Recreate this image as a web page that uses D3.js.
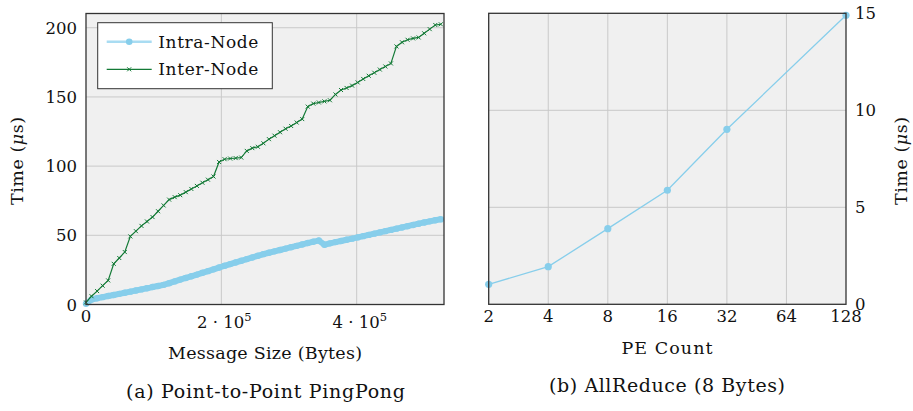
<!DOCTYPE html>
<html>
<head>
<meta charset="utf-8">
<script src="https://cdn.jsdelivr.net/npm/d3@7"></script>
<style>
  body { margin: 0; background: #fff; }
  text { font-family: 'DejaVu Serif', serif; fill: #111; }
</style>
</head>
<body>
<div id="chart"></div>
<script>
// message sizes (bytes), one sample every 8 KiB up to 512 KiB
const msgSizes = d3.range(0, 524289, 8192);
// latency in microseconds
const intraNode = [0.5, 3.6, 4.5, 5.3, 6.1, 6.9, 7.7, 8.5, 9.3, 10.1, 10.9, 11.7, 12.6, 13.4, 14.2, 15.4,
  16.7, 18.0, 19.2, 20.4, 21.6, 22.9, 24.1, 25.4, 26.7, 28.0, 29.2, 30.4, 31.6, 32.8, 34.0, 35.2,
  36.4, 37.4, 38.4, 39.4, 40.4, 41.4, 42.4, 43.4, 44.4, 45.4, 46.2, 43.2, 44.2, 45.1, 45.9, 46.8,
  47.6, 48.5, 49.4, 50.3, 51.2, 52.1, 53.0, 53.9, 54.8, 55.7, 56.6, 57.5, 58.4, 59.3, 60.1, 60.9, 61.6];
const interNode = [1.5, 6, 9.7, 13.6, 17.4, 29.4, 33.6, 37.9, 49.2, 53, 56.8, 60, 63.2, 67.4, 71.6, 75.8,
  77.6, 79, 81.2, 83.5, 85.7, 88, 90.2, 92.5, 103, 105, 105.5, 105.8, 106.2, 111, 113, 114,
  116.5, 119.5, 122, 124.5, 127, 129, 131.5, 134, 143, 145.2, 146, 146.8, 147.6, 151.8, 155, 156.5,
  158.2, 160.5, 163, 165.3, 167.5, 169.8, 172, 174.2, 186.5, 189.5, 191.3, 192.3, 193, 196, 199, 202, 202.5];

// allreduce
const peCounts = [2, 4, 8, 16, 32, 128];
const allReduce = [1.03, 1.94, 3.9, 5.88, 9.02, 14.9];
const peTicks = [2, 4, 8, 16, 32, 64, 128];

const intraColor = '#87ceeb';
const interColor = '#137a36';
const gridColor = '#c9c9c9';
const tickSize = 16.5;

const svg = d3.select('#chart').append('svg').attr('width', 913).attr('height', 411);

const panel = (x0, x1, y0, y1) => {
  const g = svg.append('g');
  g.append('rect').attr('x', x0).attr('y', y0).attr('width', x1 - x0).attr('height', y1 - y0)
    .attr('fill', '#f0f0f0');
  return g;
};
const frame = (g, x0, x1, y0, y1) => {
  g.append('rect').attr('x', x0).attr('y', y0).attr('width', x1 - x0).attr('height', y1 - y0)
    .attr('fill', 'none').attr('stroke', '#333').attr('stroke-width', 1.3);
};
// text stretched to the width it has in the figure
const label = (g, x, y, size, len, str) => g.append('text').attr('x', x).attr('y', y)
  .attr('text-anchor', 'middle').attr('font-size', size)
  .attr('textLength', len).attr('lengthAdjust', 'spacing').text(str);

// ---------- (a) point-to-point ----------
const A = { x0: 86, x1: 444, y0: 13.5, y1: 304.5 };
const xA = d3.scaleLinear().domain([0, 529000]).range([A.x0, A.x1]);
const yA = d3.scaleLinear().domain([0, 210.3]).range([A.y1, A.y0]);
const gA = panel(A.x0, A.x1, A.y0, A.y1);

gA.append('g').selectAll('line').data([200000, 400000]).join('line')
  .attr('x1', d => xA(d)).attr('x2', d => xA(d)).attr('y1', A.y0).attr('y2', A.y1)
  .attr('stroke', gridColor).attr('stroke-width', 1);
gA.append('g').selectAll('line').data([50, 100, 150, 200]).join('line')
  .attr('y1', d => yA(d)).attr('y2', d => yA(d)).attr('x1', A.x0).attr('x2', A.x1)
  .attr('stroke', gridColor).attr('stroke-width', 1);

const lineA = vals => d3.line().x((d, i) => xA(msgSizes[i])).y(d => yA(d))(vals);

svg.append('clipPath').attr('id', 'clipA').append('rect')
  .attr('x', A.x0 - 4).attr('y', A.y0).attr('width', A.x1 - A.x0 + 4).attr('height', A.y1 - A.y0 + 4);

const plotA = gA.append('g').attr('clip-path', 'url(#clipA)');
plotA.append('path').attr('d', lineA(intraNode)).attr('fill', 'none')
  .attr('stroke', intraColor).attr('stroke-width', 6).attr('stroke-linejoin', 'round');
plotA.append('g').selectAll('circle').data(intraNode).join('circle')
  .attr('cx', (d, i) => xA(msgSizes[i])).attr('cy', d => yA(d)).attr('r', 3.2).attr('fill', intraColor);

plotA.append('path').attr('d', lineA(interNode)).attr('fill', 'none')
  .attr('stroke', interColor).attr('stroke-width', 1.2);
const xMark = (x, y, s) => `M${x - s},${y - s}L${x + s},${y + s}M${x - s},${y + s}L${x + s},${y - s}`;
plotA.append('path')
  .attr('d', interNode.map((d, i) => xMark(xA(msgSizes[i]), yA(d), 2)).join(''))
  .attr('stroke', interColor).attr('stroke-width', 1).attr('fill', 'none');

frame(gA, A.x0, A.x1, A.y0, A.y1);

// y ticks
gA.append('g').selectAll('text').data([0, 50, 100, 150, 200]).join('text')
  .attr('x', 77).attr('y', d => yA(d) + 6).attr('text-anchor', 'end')
  .attr('font-size', tickSize).text(d => d);
// x ticks
gA.append('text').attr('x', xA(0)).attr('y', 322).attr('text-anchor', 'middle')
  .attr('font-size', tickSize).text('0');
const xtA = gA.append('g').selectAll('text').data([2, 4]).join('text')
  .attr('x', d => xA(d * 100000) + 3).attr('y', 328).attr('text-anchor', 'middle').attr('font-size', tickSize);
xtA.append('tspan').text(d => d + ' · 10');
xtA.append('tspan').attr('dy', -7).attr('font-size', 11.5).text('5');

label(gA, 265, 359, 17.5, 194, 'Message Size (Bytes)');
label(gA, 265.5, 398, 19, 279, '(a) Point-to-Point PingPong');

const yLabel = (x, y) => {
  const t = svg.append('text').attr('transform', `translate(${x},${y}) rotate(-90)`)
    .attr('text-anchor', 'middle').attr('font-size', 17.5)
    .attr('textLength', 88).attr('lengthAdjust', 'spacing');
  t.append('tspan').text('Time (');
  t.append('tspan').attr('font-style', 'italic').text('μ');
  t.append('tspan').text('s)');
};
yLabel(23, 161);

// legend
const lg = gA.append('g');
lg.append('rect').attr('x', 97.7).attr('y', 22.7).attr('width', 174.6).attr('height', 66)
  .attr('fill', '#fff').attr('stroke', '#333').attr('stroke-width', 1);
lg.append('line').attr('x1', 106.7).attr('x2', 151.7).attr('y1', 41.7).attr('y2', 41.7)
  .attr('stroke', '#a9dcf2').attr('stroke-width', 2.5);
lg.append('circle').attr('cx', 129.2).attr('cy', 41.7).attr('r', 3.3).attr('fill', intraColor);
lg.append('line').attr('x1', 106.7).attr('x2', 151.7).attr('y1', 69.3).attr('y2', 69.3)
  .attr('stroke', interColor).attr('stroke-width', 1.2);
lg.append('path').attr('d', xMark(129.2, 69.3, 2)).attr('stroke', interColor).attr('stroke-width', 1);
lg.selectAll('text.lab').data(['Intra-Node', 'Inter-Node']).join('text')
  .attr('x', 158.3).attr('y', (d, i) => [47.5, 75][i]).attr('font-size', 17)
  .attr('textLength', 100).attr('lengthAdjust', 'spacing').text(d => d);

// ---------- (b) allreduce ----------
const B = { x0: 488.7, x1: 846, y0: 13.3, y1: 304.3 };
const xB = d3.scaleLog().base(2).domain([2, 128]).range([B.x0, B.x1]);
const yB = d3.scaleLinear().domain([0, 15]).range([B.y1, B.y0]);
const gB = panel(B.x0, B.x1, B.y0, B.y1);

gB.append('g').selectAll('line').data(peTicks.slice(1, -1)).join('line')
  .attr('x1', d => xB(d)).attr('x2', d => xB(d)).attr('y1', B.y0).attr('y2', B.y1)
  .attr('stroke', gridColor).attr('stroke-width', 1);
gB.append('g').selectAll('line').data([5, 10]).join('line')
  .attr('y1', d => yB(d)).attr('y2', d => yB(d)).attr('x1', B.x0).attr('x2', B.x1)
  .attr('stroke', gridColor).attr('stroke-width', 1);

gB.append('path').attr('fill', 'none').attr('stroke', intraColor).attr('stroke-width', 1.3)
  .attr('d', d3.line().x((d, i) => xB(peCounts[i])).y(d => yB(d))(allReduce));
gB.append('g').selectAll('circle').data(allReduce).join('circle')
  .attr('cx', (d, i) => xB(peCounts[i])).attr('cy', d => yB(d)).attr('r', 3.6).attr('fill', intraColor);

frame(gB, B.x0, B.x1, B.y0, B.y1);

gB.append('g').selectAll('text').data([0, 5, 10, 15]).join('text')
  .attr('x', 855).attr('y', d => yB(d) + 6).attr('font-size', tickSize).text(d => d);
gB.append('g').selectAll('text').data(peTicks).join('text')
  .attr('x', d => xB(d)).attr('y', 322).attr('text-anchor', 'middle')
  .attr('font-size', tickSize).text(d => d);

label(gB, 667, 354, 17.5, 91, 'PE Count');
label(gB, 667, 392, 19, 236, '(b) AllReduce (8 Bytes)');

yLabel(907, 161);
</script>
</body>
</html>
